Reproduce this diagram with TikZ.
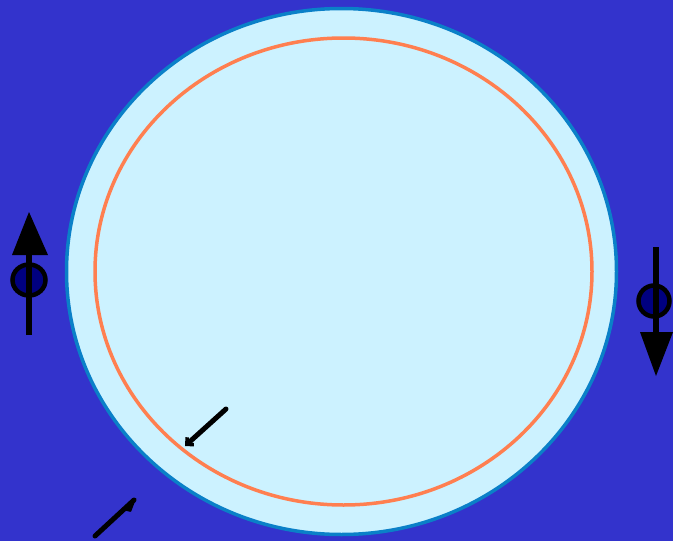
\documentclass[tikz,border=0pt]{standalone}
\usetikzlibrary{arrows.meta}
\definecolor{bgblue}{HTML}{3333CC}
\definecolor{cellfill}{HTML}{CCF2FF}
\definecolor{cellborder}{HTML}{0A80C8}
\definecolor{coral}{HTML}{FF7F50}
\definecolor{navy}{HTML}{000080}
\tikzset{
  shaft/.style={line width=6pt,black},
  spin/.style={draw=black,line width=4.5pt,fill=navy},
  head/.style={fill=black},
  small/.style={line width=5pt,black,line cap=round}
}
\begin{document}
\begin{tikzpicture}[x=1pt,y=-1pt]
\fill[bgblue] (0,0) rectangle (673,541);
\useasboundingbox (0,0) rectangle (673,541);
% cell
\draw[cellborder,fill=cellfill,line width=3.5pt] (341.5,271.5) ellipse [x radius=275,y radius=263];
\draw[coral,line width=3.5pt] (343.5,271.5) ellipse [x radius=248.5,y radius=233.5];
% left spin up
\coordinate (lb) at (29,335);
\coordinate (lt) at (29,250);
\draw[shaft] (lb) -- (lt);
\fill[head] (29,212) -- (48,255) -- (12,255) -- cycle;
\draw[spin] (29,280) ellipse [x radius=16.5,y radius=15.5];
\draw[shaft] (29,262) -- (29,298);
% right spin down
\coordinate (rt) at (656,247);
\coordinate (rb) at (656,340);
\draw[shaft] (rt) -- (rb);
\draw[spin] (654,301) ellipse [x radius=15.5,y radius=15.5];
\draw[shaft] (656,283) -- (656,320);
\fill[head] (656,376) -- (640,332) -- (673,332) -- cycle;
% small arrows
\coordinate (a1s) at (226,409);
\coordinate (a1e) at (185,446);
\draw[small,-{Straight Barb[length=5pt,width=10pt,line width=3.5pt]}] (a1s) -- (a1e);
\coordinate (a2s) at (95,536);
\coordinate (a2e) at (134,500);
\draw[small] (a2s) -- (a2e);
\fill[head,rounded corners=0.8pt] (136.5,497.5) -- (131,512) -- (123,510) -- cycle;
\end{tikzpicture}
\end{document}
